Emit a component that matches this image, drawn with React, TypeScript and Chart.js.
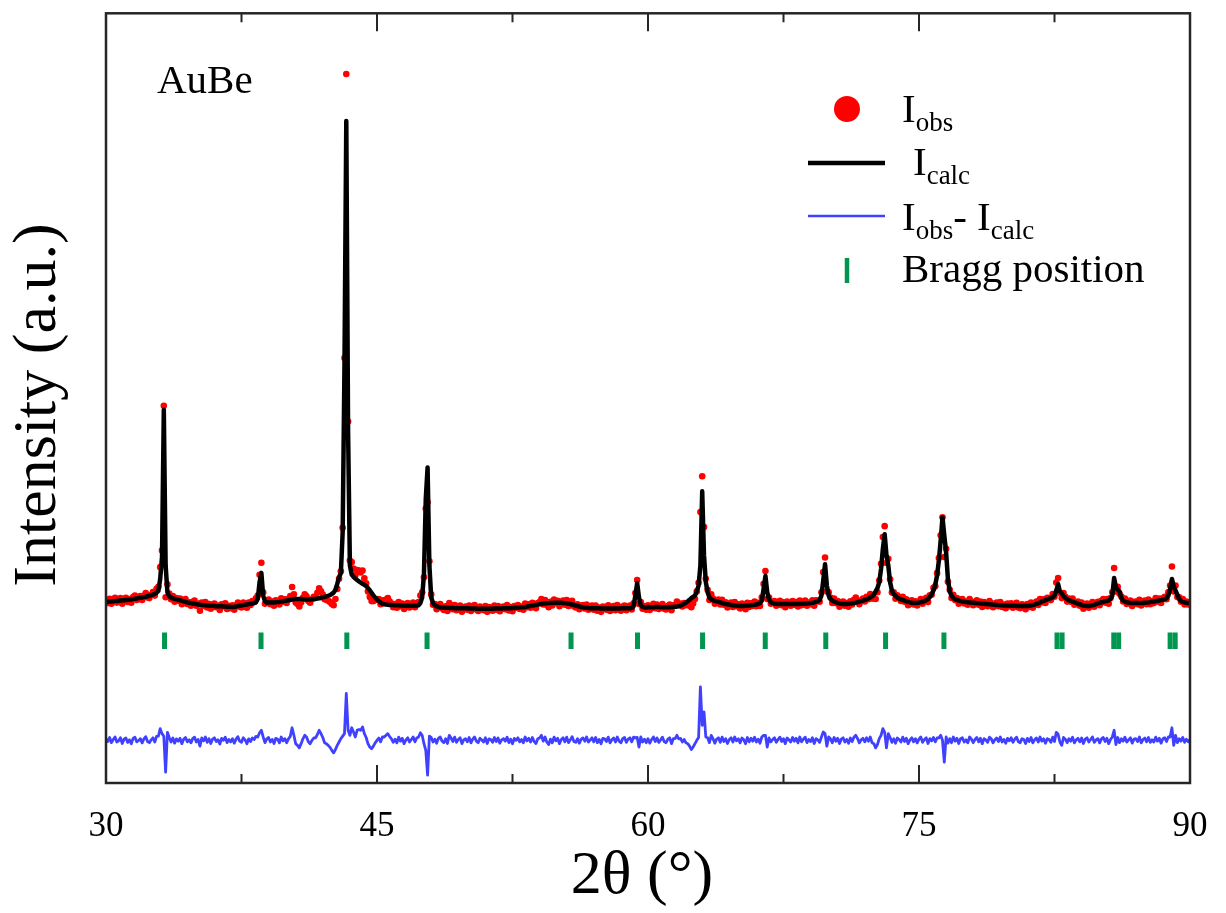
import { useEffect, useRef } from 'react';
import { Chart, registerables } from 'chart.js';

Chart.register(...registerables);

// Scan grid: 2θ from 30° to 90° in 0.1° steps
const TWO_THETA_START = 30;
const TWO_THETA_STEP = 0.1;

// Calculated profile (a.u.), one row per degree
const I_CALC = [
  482, 483, 484, 485, 486, 487, 488, 489, 490, 491,
  492, 493, 494, 496, 497, 499, 501, 503, 505, 507,
  509, 511, 513, 516, 519, 522, 526, 530, 537, 548,
  620, 750, 1631, 700, 540, 515, 508, 503, 500, 497,
  494, 491, 488, 485, 482, 479, 477, 475, 473, 471,
  469, 467, 465, 464, 463, 462, 461, 460, 460, 459,
  458, 457, 457, 456, 456, 455, 455, 454, 454, 453,
  452, 453, 455, 457, 459, 461, 463, 465, 467, 469,
  471, 473, 476, 480, 500, 600, 656, 520, 485, 478,
  480, 479, 479, 479, 480, 481, 482, 484, 486, 488,
  490, 492, 494, 496, 498, 499, 500, 500, 499, 498,
  497, 496, 496, 497, 498, 499, 500, 502, 504, 506,
  509, 512, 515, 519, 523, 530, 538, 555, 590, 630,
  655, 900, 1900, 3357, 1500, 700, 645, 632, 622, 613,
  605, 598, 590, 584, 577, 565, 552, 537, 522, 508,
  496, 486, 478, 472, 468, 466, 465, 464, 464, 463,
  463, 462, 462, 461, 461, 460, 460, 460, 459, 459,
  459, 459, 460, 462, 475, 510, 650, 1100, 1286, 700,
  510, 475, 462, 456, 452, 450, 449, 448, 447, 447,
  446, 446, 446, 445, 445, 445, 445, 444, 444, 444,
  444, 443, 443, 443, 443, 442, 442, 442, 442, 442,
  442, 442, 442, 442, 442, 443, 443, 443, 443, 443,
  444, 444, 444, 445, 445, 446, 446, 447, 448, 449,
  450, 451, 452, 454, 456, 458, 460, 462, 464, 466,
  468, 470, 472, 473, 474, 475, 476, 476, 477, 477,
  477, 477, 477, 476, 475, 474, 472, 470, 467, 464,
  461, 458, 455, 452, 450, 448, 447, 446, 445, 445,
  444, 444, 444, 444, 443, 443, 443, 443, 443, 443,
  443, 443, 443, 443, 443, 444, 444, 444, 444, 445,
  445, 446, 455, 520, 595, 510, 462, 452, 450, 449,
  452, 451, 451, 451, 452, 452, 452, 451, 451, 451,
  451, 451, 451, 452, 452, 453, 454, 456, 460, 465,
  471, 478, 486, 495, 505, 513, 520, 545, 580, 700,
  1143, 760, 600, 540, 508, 498, 492, 488, 485, 482,
  479, 476, 473, 470, 468, 466, 464, 462, 461, 460,
  459, 458, 458, 458, 459, 460, 461, 462, 463, 465,
  467, 470, 475, 490, 560, 637, 540, 495, 480, 475,
  472, 471, 470, 470, 470, 470, 470, 470, 470, 470,
  470, 470, 470, 470, 470, 471, 471, 472, 473, 474,
  475, 477, 479, 482, 486, 495, 520, 610, 708, 580,
  520, 500, 490, 485, 480, 476, 473, 471, 470, 470,
  470, 471, 472, 474, 476, 478, 481, 484, 487, 490,
  494, 498, 503, 509, 516, 525, 545, 565, 600, 680,
  800, 887, 760, 700, 600, 550, 530, 518, 508, 502,
  498, 494, 490, 486, 482, 479, 477, 476, 476, 476,
  478, 480, 483, 487, 492, 500, 512, 528, 550, 585,
  640, 730, 850, 988, 880, 780, 620, 545, 520, 505,
  498, 494, 490, 487, 485, 483, 481, 480, 479, 478,
  477, 476, 475, 474, 473, 472, 471, 470, 469, 468,
  467, 466, 465, 464, 463, 462, 462, 461, 461, 460,
  460, 459, 459, 459, 458, 458, 458, 458, 458, 458,
  458, 459, 461, 463, 466, 470, 474, 479, 484, 489,
  493, 497, 501, 505, 510, 520, 550, 589, 545, 535,
  518, 506, 498, 492, 488, 484, 480, 476, 472, 468,
  464, 461, 459, 458, 458, 460, 462, 465, 469, 473,
  477, 480, 482, 485, 488, 492, 500, 520, 625, 570,
  555, 545, 505, 490, 484, 480, 478, 476, 475, 475,
  475, 475, 475, 476, 476, 477, 478, 479, 481, 483,
  485, 487, 489, 491, 493, 495, 498, 505, 520, 560,
  619, 575, 550, 525, 500, 488, 482, 479, 477, 476,
  476,
];

// Residual Iobs - Icalc (a.u.) on the same grid
const I_RESID = [
  10, -7, 17, -14, 5, 20, -10, -3, 15, -19,
  7, 14, -12, 3, -20, 12, 19, -9, -2, 10,
  -15, 9, 22, -7, -14, 3, 15, -10, 24, 25,
  70, 40, 24, -190, 48, 17, -10, 14, -17, 9,
  -5, 12, -20, 7, 17, -9, 3, -15, 10, 19,
  -10, 5, -35, 14, -3, 20, -12, 9, -19, 7,
  15, -7, 3, -22, 12, 0, 19, -14, 5, -9,
  10, -17, 7, 22, -5, -12, 15, 3, -20, 9,
  -7, 14, 5, 24, 20, 45, 60, 20, -14, 9,
  17, -10, 5, -19, 12, 7, -15, 20, -3, 10,
  -14, 9, 24, 75, 30, -20, -30, -45, -20, 9,
  30, 20, -9, -20, 0, 14, 15, 35, 60, 40,
  17, -14, -20, -30, -42, -60, -75, -55, -30, -10,
  10, 25, 40, 280, 60, 30, 75, 50, 20, 60,
  65, 60, 80, 40, 17, -20, -40, -50, -35, -15,
  0, 14, -9, 20, 20, 30, 40, 22, 9, -12,
  7, -15, 19, -5, 12, -20, 3, 15, -10, 5,
  20, -9, 14, 20, 45, 30, -20, -60, -208, 25,
  17, -10, 7, -17, 12, 20, -5, -14, 9, -19,
  30, 14, -7, 19, -12, 5, 15, -20, 3, 10,
  -9, 17, -15, 7, 20, -5, -14, 12, 2, -10,
  15, -19, 9, 5, -12, 17, -7, 14, -17, 3,
  10, -5, 19, -14, 7, -20, 12, 0, 15, -9,
  5, -15, 20, -3, 12, -10, 17, -7, -19, 9,
  14, 30, -5, 20, -10, -25, 7, -15, 19, -3,
  12, -20, 5, 15, -9, 19, -14, 3, 22, -7,
  -12, 10, -17, 7, 14, -5, 20, -10, 2, 15,
  -9, 17, -14, 5, -20, 12, 9, -7, 19, -15,
  3, 14, -10, 20, -5, -15, 10, 17, -12, 7,
  15, -9, 19, 15, 18, -40, 20, -10, 7, -14,
  10, -17, 5, 20, -7, 14, -12, 3, 19, -9,
  -14, 7, 15, -20, 10, 10, 30, 9, 12, -10,
  5, -15, -20, -35, -55, -40, -20, 0, 17, 320,
  90, 170, 20, 15, -14, 30, 10, -17, 7, 15,
  -12, 19, -7, 10, -19, 5, 15, -10, 20, -3,
  9, -15, 14, 3, -20, 17, -9, 12, -5, 19,
  -10, 7, -17, 20, 30, 30, -40, 14, -9, 5,
  15, -12, 5, 19, -7, 10, -20, 14, 3, -10,
  17, -5, 12, -15, 20, -9, 7, 19, -14, 5,
  -7, 15, -19, 10, 3, -12, 20, 50, 40, -35,
  20, 9, -14, 17, -5, 12, -19, 7, 15, -10,
  5, -17, 14, -7, 19, 30, 10, -15, 3, 12,
  -9, 15, -5, 20, -14, -20, -45, -25, 10, 30,
  70, 48, -45, 40, 17, -12, 9, -17, 14, 5,
  -10, 19, -7, 12, -20, 3, 15, -9, 10, -15,
  7, 20, -12, 5, 15, -19, 10, -3, 17, -9,
  14, 15, 30, 0, -130, 20, -17, 10, -14, 20,
  -5, 12, -19, 9, 15, -10, 3, -15, 20, 7,
  -14, 5, 17, -9, 12, -20, 10, 2, -12, 19,
  9, -15, 3, 14, -7, 20, -10, 5, -17, 12,
  -3, 15, -12, 7, 19, -9, -14, 10, 5, -19,
  12, -7, 17, -15, 3, 14, -10, 20, -5, 9,
  -17, 10, 5, -12, 19, -7, 48, 36, -10, -30,
  17, 7, -14, 10, -5, 19, -15, 3, 12, -9,
  14, -19, 7, 15, -10, 5, 20, -12, 2, 10,
  -15, 9, 17, -7, 12, -20, 5, 20, 60, -25,
  17, -14, 9, -5, 19, -10, 3, 15, -17, 7,
  10, -7, 20, -15, 5, 14, -9, 17, -12, 3,
  -10, 19, -5, 12, -17, 9, 15, -7, 20, 20,
  75, -30, 30, -14, 10, -5, 17, -12, 7, -9,
  5,
];

// Reflection positions (2θ, degrees)
const BRAGG_POSITIONS = [
  33.24, 38.58, 43.33, 47.77, 55.74, 59.42, 63.02, 66.49, 69.84,
  73.15, 76.38, 82.64, 82.92, 85.78, 86.05, 88.9, 89.18,
];

// Vertical placement of the residual curve and the reflection markers
const DIFF_OFFSET = -345;
const BRAGG_LEVEL = 250;

// Axis limits and tick spacing
const X_MIN = 30;
const X_MAX = 90;
const X_STEP = 15;
const Y_MIN = -600;
const Y_MAX = 4000;
const Y_STEP = 1000;

const SERIF = '"Liberation Serif", "Times New Roman", serif';
const AXIS_COLOR = '#262626';
const OBS_COLOR = '#ff0000';
const CALC_COLOR = '#000000';
const DIFF_COLOR = '#4040ff';
const BRAGG_COLOR = '#00964f';

const twoTheta = I_CALC.map((_, i) => +(TWO_THETA_START + i * TWO_THETA_STEP).toFixed(2));
const calcPoints = twoTheta.map((x, i) => ({ x, y: I_CALC[i] }));
const obsPoints = twoTheta.map((x, i) => ({ x, y: I_CALC[i] + I_RESID[i] }));
const diffPoints = obsPoints.map((p, i) => ({ x: p.x, y: p.y - I_CALC[i] + DIFF_OFFSET }));
const braggPoints = BRAGG_POSITIONS.map((x) => ({ x, y: BRAGG_LEVEL }));

type Part = { t: string; sub?: boolean };

function drawRich(ctx: CanvasRenderingContext2D, x: number, y: number, parts: Part[]) {
  let cx = x;
  for (const p of parts) {
    ctx.font = p.sub ? `27px ${SERIF}` : `41px ${SERIF}`;
    ctx.fillText(p.t, cx, p.sub ? y + 9 : y);
    cx += ctx.measureText(p.t).width;
  }
}

const framePlugin = {
  id: 'frameTicks',
  afterDatasetsDraw(chart: any) {
    const { ctx, chartArea: a, scales } = chart;
    const xs = scales.x;
    const ys = scales.y;
    ctx.save();
    ctx.strokeStyle = AXIS_COLOR;
    ctx.lineWidth = 2.5;
    ctx.strokeRect(a.left, a.top, a.right - a.left, a.bottom - a.top);

    ctx.lineWidth = 2;
    ctx.beginPath();
    const xv: number[] = xs.ticks.map((t: any) => t.value);
    xv.forEach((v, i) => {
      const px = xs.getPixelForValue(v);
      if (v > xs.min && v < xs.max) {
        ctx.moveTo(px, a.bottom); ctx.lineTo(px, a.bottom - 18);
        ctx.moveTo(px, a.top); ctx.lineTo(px, a.top + 18);
      }
      if (i < xv.length - 1) {
        const mx = xs.getPixelForValue((v + xv[i + 1]) / 2);
        ctx.moveTo(mx, a.bottom); ctx.lineTo(mx, a.bottom - 9);
        ctx.moveTo(mx, a.top); ctx.lineTo(mx, a.top + 9);
      }
    });
    const yv: number[] = ys.ticks
      .map((t: any) => t.value)
      .filter((v: number) => v % Y_STEP === 0 && v > ys.min && v < ys.max);
    yv.forEach((v) => {
      const py = ys.getPixelForValue(v);
      const len = v % (2 * Y_STEP) === 0 ? 18 : 10;
      ctx.moveTo(a.left, py); ctx.lineTo(a.left + len, py);
      ctx.moveTo(a.right, py); ctx.lineTo(a.right - len, py);
    });
    ctx.stroke();

    // tick labels
    ctx.fillStyle = '#000';
    ctx.font = `35px ${SERIF}`;
    ctx.textAlign = 'center';
    ctx.textBaseline = 'alphabetic';
    xv.forEach((v) => {
      ctx.fillText(String(v), xs.getPixelForValue(v), 836);
    });
    ctx.restore();
  },
  afterDraw(chart: any) {
    const { ctx, chartArea: a } = chart;
    ctx.save();
    ctx.fillStyle = '#000';
    ctx.textBaseline = 'alphabetic';

    // axis titles
    ctx.font = `62px ${SERIF}`;
    ctx.textAlign = 'center';
    ctx.fillText('2θ (°)', (a.left + a.right) / 2 - 6, 893);
    ctx.save();
    ctx.translate(55, 405);
    ctx.rotate(-Math.PI / 2);
    ctx.fillText('Intensity (a.u.)', 0, 0);
    ctx.restore();

    // sample label
    ctx.textAlign = 'left';
    ctx.font = `41px ${SERIF}`;
    ctx.fillText('AuBe', 157, 93);

    // legend markers
    ctx.fillStyle = OBS_COLOR;
    ctx.beginPath();
    ctx.arc(847, 109, 13, 0, Math.PI * 2);
    ctx.fill();
    ctx.lineCap = 'butt';
    ctx.strokeStyle = CALC_COLOR;
    ctx.lineWidth = 4.5;
    ctx.beginPath(); ctx.moveTo(808, 163); ctx.lineTo(885, 163); ctx.stroke();
    ctx.strokeStyle = DIFF_COLOR;
    ctx.lineWidth = 2.5;
    ctx.beginPath(); ctx.moveTo(808, 216); ctx.lineTo(885, 216); ctx.stroke();
    ctx.strokeStyle = BRAGG_COLOR;
    ctx.lineWidth = 4.5;
    ctx.beginPath(); ctx.moveTo(847, 258); ctx.lineTo(847, 283); ctx.stroke();

    // legend labels
    ctx.fillStyle = '#000';
    drawRich(ctx, 902, 122, [{ t: 'I' }, { t: 'obs', sub: true }]);
    drawRich(ctx, 913, 175, [{ t: 'I' }, { t: 'calc', sub: true }]);
    drawRich(ctx, 902, 230, [{ t: 'I' }, { t: 'obs', sub: true }, { t: '- I' }, { t: 'calc', sub: true }]);
    drawRich(ctx, 902, 282, [{ t: 'Bragg position' }]);
    ctx.restore();
  },
};

export default function App() {
  const canvasRef = useRef<HTMLCanvasElement | null>(null);

  useEffect(() => {
    const canvas = canvasRef.current;
    if (!canvas) return;
    const chart = new Chart(canvas, {
      type: 'line',
      data: {
        datasets: [
          {
            label: 'Icalc',
            data: calcPoints,
            borderColor: CALC_COLOR,
            borderWidth: 4.5,
            borderJoinStyle: 'round',
            borderCapStyle: 'round',
            pointRadius: 0,
            tension: 0,
            order: 0,
          },
          {
            label: 'Iobs',
            data: obsPoints,
            showLine: false,
            pointRadius: 3.3,
            pointBorderWidth: 0,
            pointBackgroundColor: OBS_COLOR,
            borderColor: OBS_COLOR,
            order: 1,
          },
          {
            label: 'Iobs- Icalc',
            data: diffPoints,
            borderColor: DIFF_COLOR,
            borderWidth: 2.8,
            borderJoinStyle: 'round',
            pointRadius: 0,
            tension: 0,
            order: 2,
          },
          {
            label: 'Bragg position',
            data: braggPoints,
            showLine: false,
            pointStyle: 'line',
            pointRotation: 90,
            pointRadius: 8.3,
            pointBorderWidth: 5,
            pointBorderColor: BRAGG_COLOR,
            borderColor: BRAGG_COLOR,
            order: 3,
          },
        ] as any,
      },
      options: {
        animation: false,
        responsive: false,
        devicePixelRatio: 1,
        events: [],
        parsing: false,
        normalized: true,
        layout: { padding: { left: 0, right: 36, top: 11, bottom: 0 } },
        plugins: { legend: { display: false }, tooltip: { enabled: false } },
        scales: {
          x: {
            type: 'linear',
            min: X_MIN,
            max: X_MAX,
            ticks: { stepSize: X_STEP, display: false },
            grid: { display: false },
            border: { display: false },
            afterFit(s: any) { s.height = 130; },
          },
          y: {
            type: 'linear',
            min: Y_MIN,
            max: Y_MAX,
            ticks: { stepSize: Y_STEP, display: false },
            grid: { display: false },
            border: { display: false },
            afterFit(s: any) { s.width = 106; },
          },
        },
      } as any,
      plugins: [framePlugin],
    });
    return () => chart.destroy();
  }, []);

  return (
    <div style={{ position: 'absolute', left: 0, top: 0, width: 1226, height: 913, background: '#fff' }}>
      <canvas ref={canvasRef} width={1226} height={913} style={{ display: 'block' }} />
    </div>
  );
}
